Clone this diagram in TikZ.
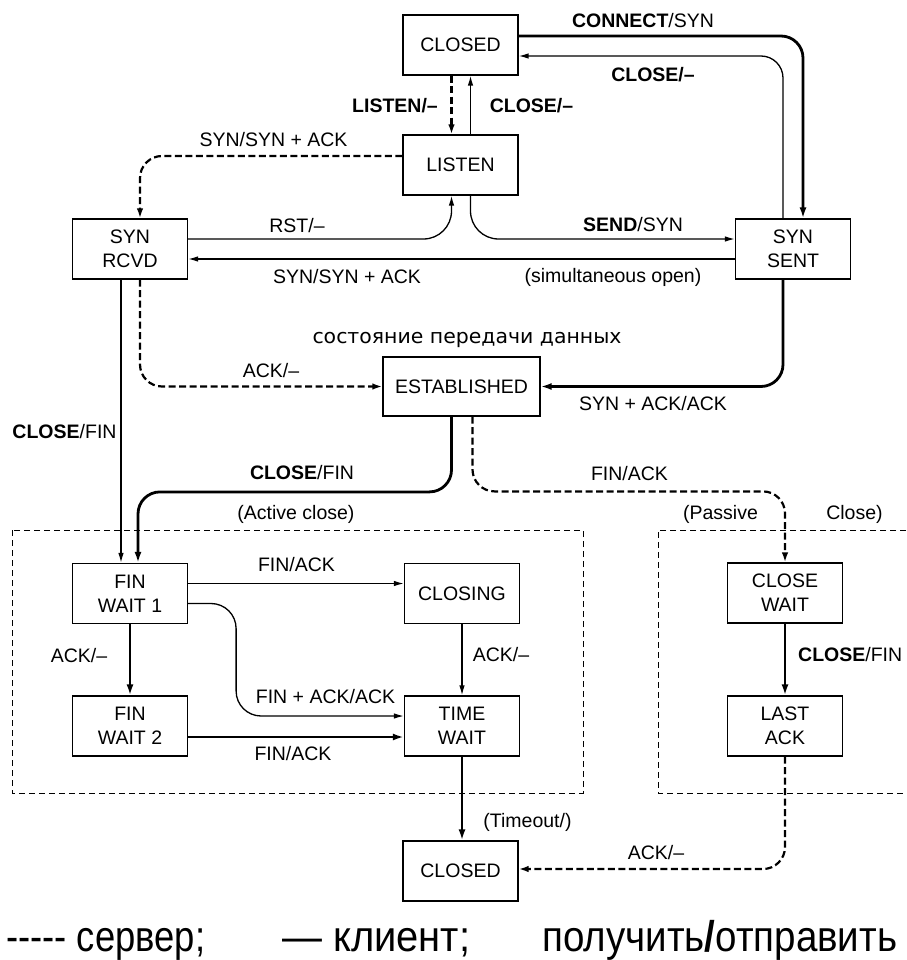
\documentclass[tikz,border=0pt]{standalone}
\usepackage{fontspec}
\setmainfont{Liberation Sans}
\newfontfamily\titlefont{DejaVu Sans}
\usetikzlibrary{arrows.meta,calc}

% scale a piece of text horizontally to a given width (in pt)
\newsavebox\fitbox
\newcommand\fitto[2]{\sbox\fitbox{#2}\pgfmathsetmacro\fitsx{#1/\wd\fitbox}\scalebox{\fitsx}[1]{\usebox\fitbox}}

\tikzset{
  state/.style={draw, line width=1.2pt, minimum width=115pt, minimum height=60pt,
    inner sep=0pt, align=center, font=\fontsize{19.5}{24}\selectfont},
  lbl/.style={font=\fontsize{19.5}{24}\selectfont, inner sep=0pt, anchor=base},
  client/.style={line width=1.3pt, rounded corners=22pt,
    -{Latex[length=10pt,width=5.5pt]}},
  clientbold/.style={line width=2.8pt, rounded corners=22pt,
    -{Latex[length=11pt,width=7pt]}},
  server/.style={line width=2.2pt, dash pattern=on 7pt off 3.5pt, rounded corners=22pt,
    -{Latex[length=10pt,width=6.5pt]}},
  region/.style={line width=1pt, dash pattern=on 6pt off 4pt},
  legend/.style={font=\fontsize{43}{48}\selectfont, inner sep=0pt, anchor=base west},
}

\begin{document}
\begin{tikzpicture}[x=1pt,y=-1pt]
\useasboundingbox (0,0) rectangle (906,960);

% state boxes
\node[state] (closedA)   at (460.5,45)    {CLOSED};
\node[state] (listen)    at (460.5,165)   {LISTEN};
\node[state] (synrcvd)   at (130,249)     {SYN\\RCVD};
\node[state] (synsent)   at (793,249)     {SYN\\SENT};
\node[state, minimum width=157pt, minimum height=59pt] (est) at (461.5,386.5) {ESTABLISHED};
\node[state] (finwait1)  at (130,593.5)   {FIN\\WAIT 1};
\node[state] (closing)   at (462,593.5)   {CLOSING};
\node[state] (finwait2)  at (130,726)     {FIN\\WAIT 2};
\node[state] (timewait)  at (462,726)     {TIME\\WAIT};
\node[state] (closewait) at (785,593)     {CLOSE\\WAIT};
\node[state] (lastack)   at (785,726)     {LAST\\ACK};
\node[state] (closedB)   at (460.5,871)   {CLOSED};

% closing regions
\draw[region] (12,530) rectangle (583,793);
\draw[region] (906,530) -- (658,530) -- (658,793) -- (906,793);

% connection setup
\draw[clientbold] ($(closedA.east)+(0,-9)$) -| ($(synsent.north)+(10,0)$);
\draw[client] ($(synsent.north)+(-10,0)$) |- ($(closedA.east)+(0,11)$);
\draw[server, rounded corners=0pt] ($(closedA.south)+(-9,0)$) -- ($(listen.north)+(-9,0)$);
\draw[client, rounded corners=0pt] ($(listen.north)+(10,0)$) -- ($(closedA.south)+(10,0)$);
\draw[server] ($(listen.west)+(0,-9)$) -| ($(synrcvd.north)+(10,0)$);
\draw[client, rounded corners=28pt] ($(synrcvd.east)+(0,-10)$) -| ($(listen.south)+(-9,0)$);
\draw[client, rounded corners=28pt] ($(listen.south)+(10,0)$) |- ($(synsent.west)+(0,-10)$);
\draw[client] ($(synsent.west)+(0,10)$) -- ($(synrcvd.east)+(0,10)$);
\draw[server] ($(synrcvd.south)+(10,0)$) |- (est.west);
\draw[clientbold] ($(synsent.south)+(-10,0)$) |- (est.east);

% connection release
\draw[client] ($(synrcvd.south)+(-9,0)$) -- ($(finwait1.north)+(-9,0)$);
\draw[clientbold] ($(est.south)+(-10,0)$) |- ($(finwait1.north)+(8,-71)$) -- ($(finwait1.north)+(8,0)$);
\draw[server] ($(est.south)+(11,0)$) |- ($(closewait.north)+(0,-71)$) -- (closewait.north);
\draw[client] ($(finwait1.east)+(0,-10)$) -- ($(closing.west)+(0,-10)$);
\draw[client, rounded corners=25pt] ($(finwait1.east)+(0,10)$) -- ($(finwait1.east)+(48,10)$) |- ($(timewait.west)+(0,-10)$);
\draw[clientbold] (finwait1.south) -- (finwait2.north);
\draw[clientbold] ($(finwait2.east)+(0,11)$) -- ($(timewait.west)+(0,11)$);
\draw[client] (closing.south) -- (timewait.north);
\draw[clientbold] (timewait.south) -- (timewait.south |- closedB.north);
\draw[clientbold] (closewait.south) -- (lastack.north);
\draw[server] (lastack.south) |- ($(closedB.east)+(0,-2)$);

% transition labels
\node[lbl] (l1)  at (643,27.5)  {\textbf{CONNECT}/SYN};
\node[lbl] (l2)  at (653,82)    {\textbf{CLOSE/–}};
\node[lbl, anchor=base east] (l3) at (438,113) {\textbf{LISTEN/–}};
\node[lbl] (l4)  at (531.5,113) {\textbf{CLOSE/–}};
\node[lbl] (l5)  at (273.5,147) {SYN/SYN + ACK};
\node[lbl] (l6)  at (297,232)   {RST/–};
\node[lbl] (l7)  at (633,231)   {\textbf{SEND}/SYN};
\node[lbl] (l8)  at (347,283)   {SYN/SYN + ACK};
\node[lbl] (l9)  at (613,282)   {(simultaneous open)};
\node[lbl] (l10) at (271,377)   {ACK/–};
\node[lbl] (l11) at (653,410)   {SYN + ACK/ACK};
\node[lbl] (l12) at (64.5,438)  {\textbf{CLOSE}/FIN};
\node[lbl] (l13) at (302,479)   {\textbf{CLOSE}/FIN};
\node[lbl] (l14) at (296,519)   {(Active close)};
\node[lbl] (l15) at (629.5,480) {FIN/ACK};
\node[lbl] (l16) at (720.5,519) {(Passive};
\node[lbl] (l17) at (854.5,519) {Close)};
\node[lbl] (l18) at (296.5,571) {FIN/ACK};
\node[lbl] (l19) at (79,662)    {ACK/–};
\node[lbl] (l20) at (325.5,703) {FIN + ACK/ACK};
\node[lbl] (l21) at (293,760)   {FIN/ACK};
\node[lbl] (l22) at (501,661)   {ACK/–};
\node[lbl, anchor=base west] (l23) at (798,661) {\textbf{CLOSE}/FIN};
\node[lbl] (l24) at (527.5,827) {(Timeout/)};
\node[lbl] (l25) at (656,859)   {ACK/–};

% caption of the established state
\node[inner sep=0pt, anchor=base, font=\titlefont\fontsize{20}{24}\selectfont] (title) at (467,343) {\fitto{309}{состояние передачи данных}};

% legend
\node[legend] (leg1) at (6,951)   {\fitto{199}{-{}-{}-{}-{}- сервер;}};
\node[legend] (leg2) at (282,951) {\fitto{188}{— клиент;}};
\node[legend] (leg3) at (542,951) {\fitto{355}{получить\textbf{/}отправить}};
\end{tikzpicture}
\end{document}
